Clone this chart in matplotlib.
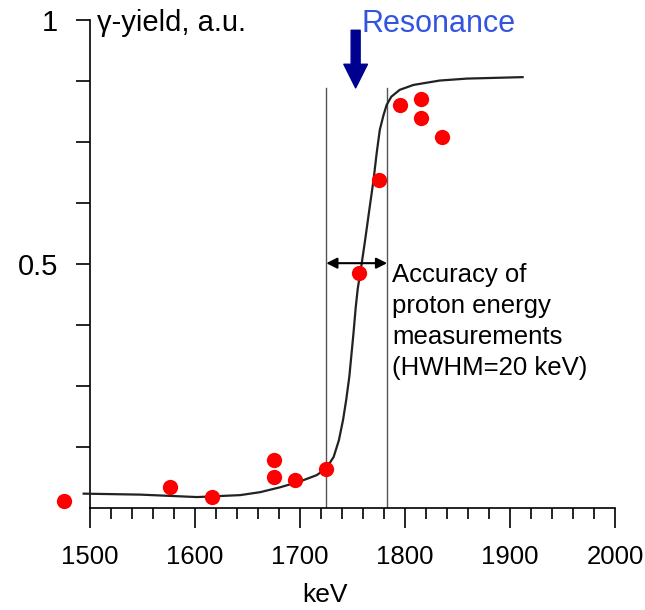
import matplotlib
matplotlib.use("Agg")
from matplotlib import pyplot as plt
from matplotlib.ticker import MultipleLocator

plt.rcParams['font.family'] = ['Liberation Sans', 'DejaVu Sans']

# measured yield points (keV, a.u.)
energy_pts = [1475, 1576, 1616, 1675, 1675, 1695, 1725, 1756, 1775, 1795, 1815, 1815, 1835]
yield_pts = [0.014, 0.044, 0.024, 0.099, 0.065, 0.058, 0.080, 0.481, 0.672, 0.826, 0.838, 0.800, 0.760]

# fitted curve
curve_e = [1494, 1548, 1602, 1643, 1662, 1681, 1700, 1716, 1725, 1732, 1737, 1741, 1744,
           1747, 1749, 1751, 1753, 1755, 1758, 1762, 1766, 1770, 1773, 1776, 1779.5,
           1782.5, 1787, 1795, 1808, 1833, 1859, 1912]
curve_y = [0.030, 0.028, 0.023, 0.027, 0.033, 0.043, 0.055, 0.068, 0.082, 0.105, 0.139, 0.181, 0.222,
           0.270, 0.315, 0.360, 0.410, 0.450, 0.490, 0.549, 0.611, 0.672, 0.727, 0.775, 0.805,
           0.826, 0.843, 0.857, 0.867, 0.876, 0.880, 0.883]

# accuracy band edges and resonance position
band_edges = [1725, 1783]
band_top = 0.861
resonance_e = 1753

fig = plt.figure(figsize=(6.45, 6.10), dpi=100)
ax = fig.add_axes([90 / 645, 1 - 508.3 / 610, 525 / 645, 488.3 / 610])

ax.plot(curve_e, curve_y, color='#222222', lw=1.6, clip_on=False, zorder=3)
ax.plot(energy_pts, yield_pts, 'o', color='#ff0000', ms=11, mec='none', clip_on=False, zorder=4)

for e in band_edges:
    ax.plot([e, e], [0, band_top], color='#555555', lw=1.0, zorder=2)

ax.annotate('', xy=(band_edges[0], 0.502), xytext=(band_edges[1], 0.502),
            arrowprops=dict(arrowstyle='<|-|>', color='black', lw=1.5, mutation_scale=16,
                            shrinkA=0, shrinkB=0), zorder=5)

ax.annotate('', xy=(resonance_e, band_top), xytext=(resonance_e, 0.979),
            arrowprops=dict(arrowstyle='simple,head_length=1.0,head_width=1.0,tail_width=0.38',
                            color='#000090', mutation_scale=17, shrinkA=0, shrinkB=0),
            annotation_clip=False)

ax.text(1759, 0.992, 'Resonance', color='#3355dd', fontsize=22, ha='left', va='center', clip_on=False)
ax.text(1506.5, 0.994, 'γ-yield, a.u.', fontsize=21, ha='left', va='center', clip_on=False)
ax.text(1788, 0.503, 'Accuracy of\nproton energy\nmeasurements\n(HWHM=20 keV)',
        fontsize=18.5, ha='left', va='top', linespacing=1.37)

ax.set_xlim(1500, 2000)
ax.set_ylim(0, 1)
ax.spines['top'].set_visible(False)
ax.spines['right'].set_visible(False)
ax.spines['left'].set_linewidth(1.2)
ax.spines['bottom'].set_linewidth(1.2)

ax.xaxis.set_major_locator(MultipleLocator(100))
ax.xaxis.set_minor_locator(MultipleLocator(20))
ax.set_yticks([0.125, 0.25, 0.375, 0.5, 0.625, 0.75, 0.875, 1.0])
ax.set_yticklabels(['', '', '', '0.5', '', '', '', '1'])
ax.tick_params(axis='x', which='major', length=14.4, width=1.2, labelsize=18.5, pad=12)
ax.tick_params(axis='x', which='minor', length=8, width=1.2)
ax.tick_params(axis='y', which='major', length=10, width=1.2, labelsize=21, pad=13)

ax.set_xlabel('keV', fontsize=19)
ax.xaxis.set_label_coords(0.448, -0.1775)
ax.xaxis.label.set_va('center')

fig.savefig('out.png', dpi=100)
